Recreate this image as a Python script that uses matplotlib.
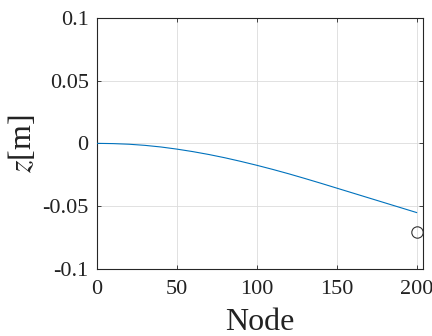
import matplotlib
matplotlib.use("Agg")
import matplotlib.pyplot as plt

node = [0, 10, 20, 30, 40, 50, 60, 70, 80, 90, 100,
        110, 120, 130, 140, 150, 160, 170, 180, 190, 200]
z = [0.0, -0.0002, -0.0007, -0.0016, -0.0029, -0.0046, -0.0066, -0.0089, -0.0115, -0.0144, -0.0175,
     -0.0208, -0.0243, -0.0280, -0.0318, -0.0357, -0.0396, -0.0435, -0.0474, -0.0513, -0.0552]
marker_node = [200]
marker_z = [-0.0705]

xticks = [0, 50, 100, 150, 200]
xticklabels = ["0", "50", "100", "150", "200"]
yticks = [-0.1, -0.05, 0, 0.05, 0.1]
yticklabels = ["-0.1", "-0.05", "0", "0.05", "0.1"]

plt.rcParams['font.family'] = ['Liberation Serif', 'DejaVu Serif']
plt.rcParams['mathtext.fontset'] = 'stix'

fig = plt.figure(figsize=(4.32, 3.36), dpi=100)
ax = fig.add_axes([97/432, 1 - 268.7/336, 326/432, 250.7/336])

axc = '#262626'
ax.plot(node, z, color='#0072BD', lw=0.8, zorder=3)
ax.plot(marker_node, marker_z, 'o', mfc='none', mec='#333333', ms=8.2, mew=0.8, zorder=3)

ax.set_xlim(0, 204)
ax.set_ylim(-0.1, 0.1)
ax.set_xticks(xticks)
ax.set_xticklabels(xticklabels)
ax.set_yticks(yticks)
ax.set_yticklabels(yticklabels)

ax.grid(True, color='#dcdcdc', lw=0.6)
ax.set_axisbelow(True)
for s in ax.spines.values():
    s.set_color(axc)
    s.set_linewidth(0.8)
ax.tick_params(direction='in', length=3, width=0.6, colors=axc, labelcolor='#222222',
               labelsize=16, top=True, right=True)
ax.tick_params(axis='x', pad=8)
ax.tick_params(axis='y', pad=6)

ax.set_xlabel('Node', fontsize=23, color='#222222', labelpad=6.5)
ax.set_ylabel(r'$z$[m]', fontsize=23, color='#222222', labelpad=3)

fig.savefig('out.png', dpi=100)
